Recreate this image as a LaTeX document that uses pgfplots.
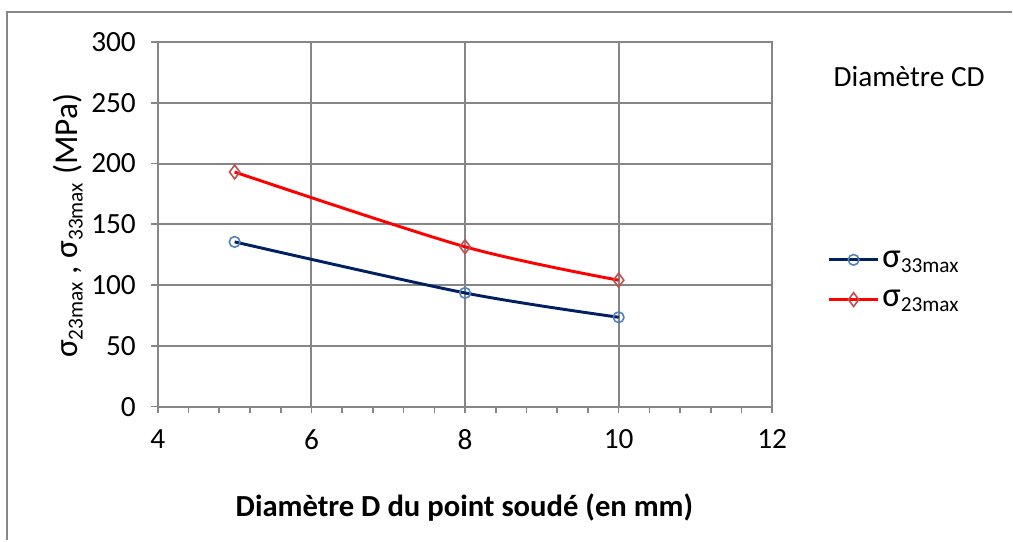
\documentclass[border=0pt]{standalone}
\usepackage{fontspec}
\setmainfont{Carlito}
\usepackage{pgfplots}
\pgfplotsset{compat=1.18}
\definecolor{gridgray}{HTML}{868686}
\definecolor{navy}{HTML}{002060}
\definecolor{mblue}{HTML}{4F81BD}
\definecolor{mred}{HTML}{C0504D}
\newcommand{\fs}{\fontsize{22}{26}\selectfont}
\newcommand{\sig}[1]{σ\textsubscript{\fontsize{16}{19}\selectfont #1}}

\begin{document}
\begin{tikzpicture}
% page frame, 1 px = 0.75pt
\begin{scope}[x=0.75pt,y=0.75pt]
  \path (0,0) rectangle (1013,541);
  \draw[gridgray,line width=1.5pt] (7,0) -- (7,529) -- (1013,529);
  \node[font=\fs,anchor=center] at (910,464) {Diamètre CD};
\end{scope}
\begin{axis}[
	at={(118.5pt,100.5pt)}, anchor=south west,
	scale only axis,
	width=461.25pt, height=273.75pt,
	xmin=4, xmax=12, ymin=0, ymax=300,
	xtick={4,6,8,10,12},
	ytick={0,50,...,300},
	minor x tick num=4,
	xtick pos=left, ytick pos=left,
	tick align=outside,
	major tick length=5pt, minor tick length=4.5pt,
	every tick/.style={gridgray,line width=1.2pt},
	axis line style={gridgray,line width=1.5pt},
	grid=major,
	major grid style={gridgray,line width=1.5pt},
	/pgf/number format/assume math mode=true,
	tick label style={font=\fs},
	xticklabel style={yshift=-9pt},
	yticklabel style={xshift=-8pt},
	xlabel={\textbf{Diamètre D du point soudé (en mm)}},
	xlabel style={font=\fontsize{23}{27}\selectfont, at={(axis description cs:0.499,-0.277)}, anchor=center},
	ylabel={{\fontsize{25}{29}\selectfont\sig{23max} , \sig{33max} (MPa)}},
	ylabel style={at={(axis description cs:-0.146,0.496)}, anchor=center, rotate=0},
	clip=false,
	legend style={at={(1.083,0.348)}, anchor=west, draw=none, fill=none,
		font=\fontsize{26}{30}\selectfont, row sep=12pt,
		/tikz/every even column/.append style={column sep=1pt}},
	legend cell align=left,
	legend image code/.code={\draw[mark repeat=2,mark phase=2]
		plot coordinates {(0pt,0pt)(18.5pt,0pt)(37pt,0pt)};},
]
\addplot[navy, line width=2.2pt, smooth,
	mark=o, mark size=4pt, mark options={mblue,fill=white,line width=1.2pt}]
	coordinates {(5,135.5) (8,93.5) (10,73.5)};
\addlegendentry{\sig{33max}}
\addplot[red, line width=2.2pt, smooth,
	mark=diamond, mark size=5.2pt, mark options={mred,fill=white,line width=1.2pt}]
	coordinates {(5,193) (8,131.5) (10,104)};
\addlegendentry{\sig{23max}}
\end{axis}
\end{tikzpicture}
\end{document}
